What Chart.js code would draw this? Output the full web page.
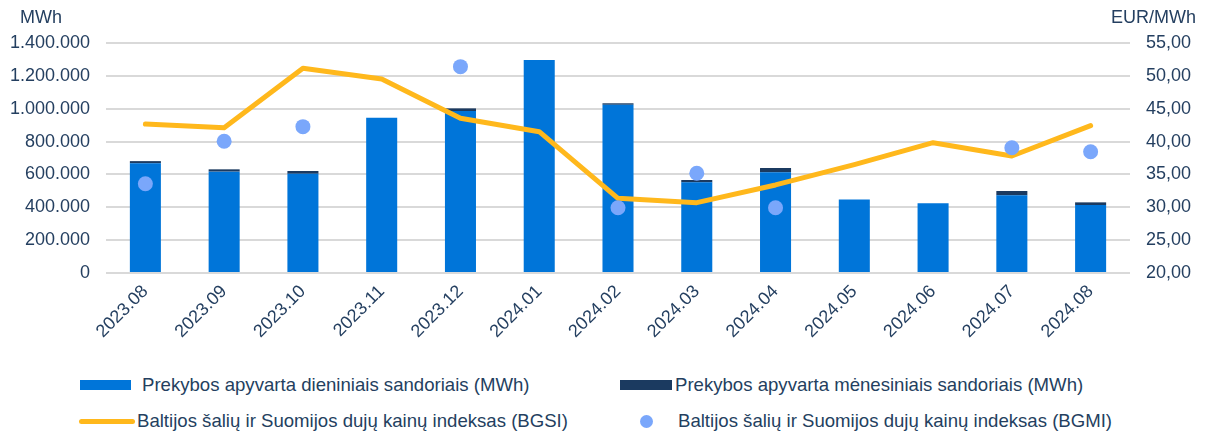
<!DOCTYPE html>
<html>
<head>
<meta charset="utf-8">
<script src="https://cdn.jsdelivr.net/npm/chart.js@4.4.1/dist/chart.umd.min.js"></script>
<style>
  html, body { margin: 0; padding: 0; background: #fff; }
  body { width: 1208px; height: 436px; position: relative; overflow: hidden; font-family: "Liberation Sans", Arial, sans-serif; color: #243f60; }
  #wrap { position: absolute; left: 0; top: 0; width: 1208px; height: 360px; }
  .lg { position: absolute; font-size: 18.6px; line-height: 20px; white-space: nowrap; }
  .mk { position: absolute; }
</style>
</head>
<body>
<div id="wrap"><canvas id="gasChart" width="1208" height="360"></canvas></div>

<div class="mk" style="left:80px;top:380px;width:51px;height:10px;background:#0075d9"></div>
<div class="lg" style="left:142px;top:375px">Prekybos apyvarta dieniniais sandoriais (MWh)</div>
<div class="mk" style="left:620px;top:380px;width:52px;height:10px;background:#1b3a60"></div>
<div class="lg" style="left:675px;top:375px">Prekybos apyvarta mėnesiniais sandoriais (MWh)</div>
<div class="mk" style="left:79px;top:419px;width:56px;height:5px;border-radius:3px;background:#ffb81c"></div>
<div class="lg" style="left:137px;top:411px">Baltijos šalių ir Suomijos dujų kainų indeksas (BGSI)</div>
<div class="mk" style="left:640px;top:415px;width:13px;height:13px;border-radius:50%;background:#7aa7fb"></div>
<div class="lg" style="left:678px;top:411px">Baltijos šalių ir Suomijos dujų kainų indeksas (BGMI)</div>

<script>
const months = ['2023.08', '2023.09', '2023.10', '2023.11', '2023.12', '2024.01', '2024.02',
    '2024.03', '2024.04', '2024.05', '2024.06', '2024.07', '2024.08'];
const dailyMWh = [668000, 617000, 604000, 945000, 986000, 1296000, 1024000, 552000, 613000, 448000, 424000, 473000, 414000];
const monthlyMWh = [13000, 14000, 17000, 0, 16000, 0, 9000, 14000, 26000, 0, 0, 26000, 16000];
const bgsi = [42.67, 42.11, 51.15, 49.52, 43.54, 41.5, 31.36, 30.7, 33.4, 36.5, 39.83, 37.8, 42.42];
const bgmi = [33.59, 40.04, 42.27, null, 51.4, null, 29.94, 35.17, 29.94, null, null, 39.07, 38.46];

const textColor = '#243f60';
const tickFont = { family: '"Liberation Sans", Arial, sans-serif', size: 18 };

function fmtThousands(v) {
    return String(Math.round(v)).replace(/\B(?=(\d{3})+(?!\d))/g, '.');
}

// axis unit titles above the tick columns
const unitTitles = {
    id: 'unitTitles',
    afterDraw(chart) {
        const ctx = chart.ctx;
        ctx.save();
        ctx.font = '18px "Liberation Sans", Arial, sans-serif';
        ctx.fillStyle = textColor;
        ctx.textBaseline = 'middle';
        ctx.textAlign = 'left';
        ctx.fillText('MWh', 20, 18);
        ctx.textAlign = 'right';
        ctx.fillText('EUR/MWh', 1196, 18);
        ctx.restore();
    }
};

const ctx = document.getElementById('gasChart').getContext('2d');
const gasChart = new Chart(ctx, {
    type: 'bar',
    data: {
        labels: months,
        datasets: [
            {
                type: 'line', label: 'BGMI', data: bgmi, yAxisID: 'y1', order: 0,
                showLine: false, pointRadius: 7.5, pointHoverRadius: 7.5,
                pointBackgroundColor: '#7aa7fb', pointBorderWidth: 0, borderColor: '#7aa7fb'
            },
            {
                type: 'line', label: 'BGSI', data: bgsi, yAxisID: 'y1', order: 1,
                borderColor: '#ffb81c', borderWidth: 5, tension: 0, pointRadius: 0,
                borderCapStyle: 'round', borderJoinStyle: 'round', fill: false
            },
            {
                label: 'Dieniniai', data: dailyMWh, yAxisID: 'y', order: 2, stack: 's',
                backgroundColor: '#0075d9', barPercentage: 0.394, categoryPercentage: 1
            },
            {
                label: 'Mėnesiniai', data: monthlyMWh, yAxisID: 'y', order: 3, stack: 's',
                backgroundColor: '#1b3a60', barPercentage: 0.394, categoryPercentage: 1
            }
        ]
    },
    options: {
        responsive: false,
        animation: false,
        devicePixelRatio: 1,
        layout: { padding: { top: 43, left: 0, right: 0, bottom: 0 } },
        plugins: { legend: { display: false }, tooltip: { enabled: false } },
        scales: {
            x: {
                stacked: true,
                grid: { display: false, drawTicks: false },
                border: { display: false },
                ticks: { color: textColor, font: tickFont, minRotation: 45, maxRotation: 45, padding: 8, autoSkip: false },
                afterFit: s => { s.height = 87; }
            },
            y: {
                position: 'left', stacked: true, min: 0, max: 1400000,
                grid: { color: '#d9d9d9', lineWidth: 2, drawTicks: false },
                border: { display: false },
                ticks: { stepSize: 200000, color: textColor, font: tickFont, padding: 16, callback: v => fmtThousands(v) },
                afterFit: s => { s.width = 106; }
            },
            y1: {
                position: 'right', min: 20, max: 55,
                grid: { display: false, drawTicks: false },
                border: { display: false },
                ticks: { stepSize: 5, color: textColor, font: tickFont, padding: 16, callback: v => v.toFixed(2).replace('.', ',') },
                afterFit: s => { s.width = 78; }
            }
        }
    },
    plugins: [unitTitles]
});
</script>
</body>
</html>
